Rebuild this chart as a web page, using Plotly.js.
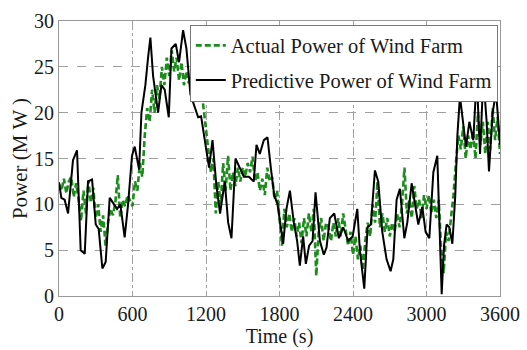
<!DOCTYPE html>
<html>
<head>
<meta charset="utf-8">
<script src="https://cdn.plot.ly/plotly-3.0.1.min.js"></script>
<style>html,body{margin:0;padding:0;background:#fff;}#chart{width:527px;height:350px;}</style>
</head>
<body>
<div id="chart"></div>
<script>
// Actual power (green dashed), sampled every 20 s from 0 to 3600 s
var actualPower = [
  12.2, 11.5, 12.8, 11.2, 12.5,
  13.0, 10.8, 12.3, 10.5, 8.2,
  11.5, 9.0, 12.6, 10.2, 11.8,
  8.5, 10.0, 7.0, 8.8, 5.5,
  8.0, 9.5, 8.8, 10.2, 13.2,
  8.5, 10.5, 9.8, 11.0, 10.3,
  9.8, 12.5, 11.5, 14.5, 13.0,
  17.5, 20.5, 19.0, 22.5, 20.0,
  23.0, 21.5, 25.0, 23.0, 26.0,
  24.0, 26.8, 24.5, 26.0, 23.5,
  25.5, 23.0, 24.5, 23.2, 24.0,
  23.0, 23.5, 22.0, 22.8, 20.5,
  18.0, 16.0, 13.5, 15.0, 9.0,
  12.5, 10.0, 14.5, 11.5, 15.3,
  11.5, 13.5, 12.0, 14.0, 12.5,
  14.0, 13.0, 14.5, 13.5, 15.2,
  12.5, 13.5, 11.5, 12.8, 11.0,
  14.0, 12.5, 13.0, 10.5, 11.5,
  8.0, 5.5, 9.5, 7.5, 9.0,
  7.0, 8.5, 6.5, 8.0, 5.8,
  8.5, 6.5, 9.0, 7.0, 9.5,
  2.2, 7.0, 8.5, 6.0, 8.0,
  7.5, 6.0, 8.0, 6.5, 8.5,
  6.5, 9.0, 7.0, 5.5, 7.0,
  4.5, 6.5, 4.0, 5.5, 2.8,
  6.0, 8.0, 6.5, 10.0, 8.0,
  12.5, 7.5, 9.0, 7.0, 8.5,
  6.5, 8.0, 7.0, 9.0, 7.5,
  10.0, 14.0, 9.0, 10.5, 8.5,
  12.0, 9.5, 10.5, 8.5, 11.0,
  9.5, 11.0, 9.0, 10.5, 8.5,
  10.5, 5.0, 2.5, 7.0, 6.0,
  8.5, 11.0, 14.5, 17.5, 16.0,
  18.5, 15.0, 17.5, 16.0, 18.0,
  15.0, 20.0, 16.5, 19.0, 15.5,
  19.0, 16.0, 20.5, 17.0, 19.5,
  15.5
];

// Predictive power (black solid)
var predTime = [0, 19, 46, 74, 114, 147, 177, 210, 237, 270, 300, 324, 354, 381, 414, 441, 474, 501, 536, 564,
  596, 618, 654, 673, 705, 727, 746, 768, 790, 809, 836, 863, 896, 918, 953, 980, 1013, 1040, 1073, 1100,
  1136, 1160, 1198, 1225, 1253, 1285, 1315, 1353, 1381, 1408, 1441, 1476, 1509, 1550, 1590, 1612, 1639, 1672, 1702, 1729,
  1757, 1784, 1808, 1830, 1857, 1885, 1917, 1944, 1966, 1993, 2015, 2042, 2070, 2094, 2130, 2162, 2184, 2211, 2247, 2285,
  2320, 2361, 2397, 2435, 2456, 2492, 2519, 2546, 2579, 2606, 2639, 2674, 2707, 2729, 2756, 2783, 2819, 2843, 2879, 2906,
  2933, 2966, 2993, 3023, 3056, 3088, 3110, 3124, 3143, 3164, 3186, 3211, 3235, 3252, 3273, 3301, 3322, 3350, 3382, 3410,
  3437, 3464, 3491, 3510, 3540, 3568, 3600];
var predPower = [12.4, 10.7, 10.5, 9.0, 14.8, 15.9, 5.0, 4.6, 12.5, 12.7, 7.8, 7.3, 3.0, 3.7, 10.7, 10.2, 9.5, 10.0, 6.4, 10.0,
  15.3, 16.3, 13.8, 20.0, 23.0, 26.0, 28.2, 24.0, 21.5, 20.0, 23.0, 22.5, 19.5, 27.0, 27.5, 25.5, 29.0, 27.0, 22.0, 21.0,
  19.5, 19.6, 16.0, 14.0, 17.0, 12.0, 9.0, 12.5, 8.0, 6.3, 15.0, 14.0, 13.0, 13.0, 12.5, 16.5, 15.5, 17.0, 17.3, 14.0,
  11.0, 10.0, 7.5, 5.7, 9.5, 11.5, 8.0, 6.0, 3.3, 6.5, 3.5, 5.5, 6.0, 11.3, 6.0, 4.5, 5.3, 8.5, 9.0, 6.3,
  7.5, 6.0, 6.5, 9.5, 5.0, 0.8, 7.5, 7.8, 13.7, 12.5, 7.0, 4.0, 2.7, 4.0, 10.5, 11.7, 6.3, 8.0, 12.3, 10.0,
  7.8, 9.7, 7.0, 6.3, 13.5, 15.3, 5.8, 0.2, 5.5, 7.8, 7.5, 5.7, 11.0, 17.5, 21.8, 18.5, 16.3, 19.0, 17.0, 24.0,
  15.5, 24.0, 19.0, 13.6, 20.0, 22.3, 16.5];

var xTicks = [0, 600, 1200, 1800, 2400, 3000, 3600];
var yTicks = [0, 5, 10, 15, 20, 25, 30];

var serif = "Liberation Serif";

var traces = [
  {
    type: "scatter", mode: "lines", name: "Actual Power of Wind Farm",
    x0: 0, dx: 20, y: actualPower, legendgroup: "a",
    line: {color: "#1c8c1c", width: 2.6, dash: "6px,3px"}
  },
  {
    type: "scatter", mode: "lines", name: "Predictive Power of Wind Farm",
    x: predTime, y: predPower, legendgroup: "b",
    line: {color: "#000000", width: 2}
  }
];

var layout = {
  width: 527, height: 350,
  margin: {l: 59, r: 27, t: 21, b: 54},
  paper_bgcolor: "#ffffff", plot_bgcolor: "#ffffff",
  font: {family: serif, size: 20, color: "#1a1a1a"},
  showlegend: true,
  legend: {
    x: 0.995, y: 0.987, xanchor: "right", yanchor: "top",
    bgcolor: "#ffffff", bordercolor: "#777777", borderwidth: 1,
    font: {family: serif, size: 20.5, color: "#1a1a1a"},
    itemwidth: 30, tracegroupgap: 5
  },
  xaxis: {
    range: [0, 3600], tickvals: xTicks, ticktext: xTicks.map(String),
    showgrid: true, gridcolor: "#a0a0a0", griddash: "dashdot", gridwidth: 1,
    zeroline: false, showline: true, linecolor: "#999999", linewidth: 1, mirror: true,
    ticks: "", tickfont: {family: serif, size: 20},
    title: {text: "Time (s)", font: {family: serif, size: 20}, standoff: 0}
  },
  yaxis: {
    range: [0, 30], tickvals: yTicks, ticktext: yTicks.map(String),
    showgrid: true, gridcolor: "#a0a0a0", griddash: "dash", gridwidth: 1,
    zeroline: false, showline: true, linecolor: "#999999", linewidth: 1, mirror: true,
    ticks: "", tickfont: {family: serif, size: 20},
    title: {text: "Power (M W )", font: {family: serif, size: 21}, standoff: 0}
  }
};

Plotly.newPlot("chart", traces, layout, {staticPlot: true, displayModeBar: false});
</script>
</body>
</html>
